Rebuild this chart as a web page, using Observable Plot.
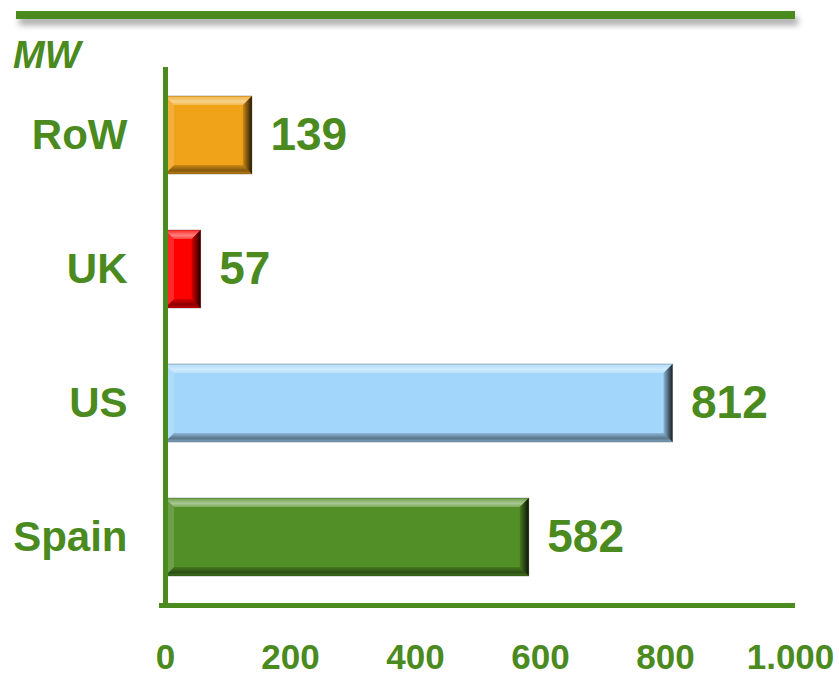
<!DOCTYPE html>
<html>
<head>
<meta charset="utf-8">
<script src="https://cdn.jsdelivr.net/npm/d3@7"></script>
<script src="https://cdn.jsdelivr.net/npm/@observablehq/plot@0.6"></script>
<style>
  html, body { margin: 0; padding: 0; background: #fff; }
  #wrap { position: relative; width: 839px; height: 677px; overflow: hidden; }
  #topline { position: absolute; left: 16px; top: 11px; width: 779px; height: 8px; background: #4a8a1f; box-shadow: 3px 6px 6px rgba(0,0,0,0.35); }
  #unit { position: absolute; left: 13px; top: 36px; font: italic bold 38px "Liberation Sans", Arial, sans-serif; color: #4a8a1f; line-height: 1; }
</style>
</head>
<body>
<div id="wrap">
  <div id="chart"></div>
  <div id="topline"></div>
  <div id="unit">MW</div>
</div>
<script>
const categories = ["RoW", "UK", "US", "Spain"];
const values = [139, 57, 812, 582];
const colors = ["#f0a318", "#ff0000", "#a3d6fb", "#538f27"];
const xTicks = [0, 200, 400, 600, 800, 1000];

const green = "#4a8a1f";
const data = categories.map((c, i) => ({ category: c, value: values[i], color: colors[i] }));
const fmt = d => d3.format(",")(d).replace(/,/g, ".");

const plot = Plot.plot({
  width: 839,
  height: 677,
  marginLeft: 165,
  marginRight: 49,
  marginTop: 67,
  marginBottom: 72,
  style: { fontFamily: "'Liberation Sans', Arial, sans-serif", background: "transparent", overflow: "visible" },
  x: { domain: [0, 1000], ticks: xTicks, tickFormat: fmt, label: null },
  y: { domain: categories, paddingInner: 0.42, paddingOuter: 0.21, label: null },
  marks: [
    Plot.barX(data, { x: "value", y: "category", fill: d => d.color }),
    Plot.ruleX([0], { stroke: green, strokeWidth: 5 }),
    Plot.frame({ anchor: "bottom", stroke: green, strokeWidth: 5, insetLeft: -4, insetRight: -2 }),
    Plot.text(data, { x: "value", y: "category", text: d => String(d.value), dx: 18, textAnchor: "start", fill: green, fontSize: 46, fontWeight: "bold" }),
    Plot.axisX({ ticks: xTicks, tickFormat: fmt, tickSize: 0, tickPadding: 39, fontSize: 35, fontWeight: "bold", fill: green, label: null }),
    Plot.axisY({ tickSize: 0, tickPadding: 38, fontSize: 42, fontWeight: "bold", fill: green, label: null })
  ]
});

// Bevel overlays computed from the rendered bars
const svg = d3.select(plot);
const defs = svg.append("defs");
const gTop = defs.append("linearGradient").attr("id", "bevTop").attr("x1", 0).attr("y1", 0).attr("x2", 0).attr("y2", 1);
gTop.append("stop").attr("offset", "0%").attr("stop-color", "#fff").attr("stop-opacity", 0.15);
gTop.append("stop").attr("offset", "60%").attr("stop-color", "#fff").attr("stop-opacity", 0.5);
gTop.append("stop").attr("offset", "100%").attr("stop-color", "#fff").attr("stop-opacity", 0.25);
const gBot = defs.append("linearGradient").attr("id", "bevBot").attr("x1", 0).attr("y1", 0).attr("x2", 0).attr("y2", 1);
gBot.append("stop").attr("offset", "0%").attr("stop-color", "#000").attr("stop-opacity", 0.15);
gBot.append("stop").attr("offset", "60%").attr("stop-color", "#000").attr("stop-opacity", 0.45);
gBot.append("stop").attr("offset", "100%").attr("stop-color", "#000").attr("stop-opacity", 0.2);
const gRight = defs.append("linearGradient").attr("id", "bevRight").attr("x1", 0).attr("y1", 0).attr("x2", 1).attr("y2", 0);
gRight.append("stop").attr("offset", "0%").attr("stop-color", "#000").attr("stop-opacity", 0.15);
gRight.append("stop").attr("offset", "100%").attr("stop-color", "#000").attr("stop-opacity", 0.85);

svg.selectAll('g[aria-label="bar"] rect').each(function () {
  const r = d3.select(this);
  const x = +r.attr("x"), y = +r.attr("y"), w = +r.attr("width"), h = +r.attr("height");
  const b = 9;
  const g = d3.select(this.parentNode);
  const poly = (pts, fill) => g.append("polygon").attr("points", pts.map(p => p.join(",")).join(" ")).attr("fill", fill);
  poly([[x, y], [x + w, y], [x + w - b, y + b], [x + b, y + b]], "url(#bevTop)");
  poly([[x, y + h], [x + w, y + h], [x + w - b, y + h - b], [x + b, y + h - b]], "url(#bevBot)");
  poly([[x, y], [x + b, y + b], [x + b, y + h - b], [x, y + h]], "rgba(255,255,255,0.15)");
  poly([[x + w, y], [x + w - b, y + b], [x + w - b, y + h - b], [x + w, y + h]], "url(#bevRight)");
  g.append("rect").attr("x", x).attr("y", y).attr("width", w).attr("height", h).attr("fill", "none").attr("stroke", "rgba(0,0,0,0.25)").attr("stroke-width", 1);
});

document.getElementById("chart").appendChild(plot);
</script>
</body>
</html>
